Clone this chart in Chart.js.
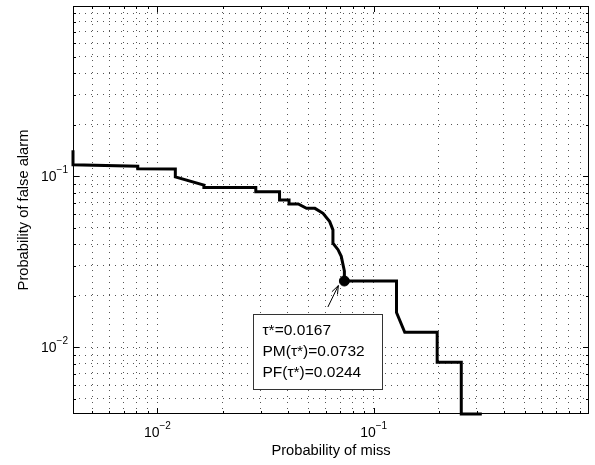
<!DOCTYPE html>
<html>
<head>
<meta charset="utf-8">
<script src="https://cdn.jsdelivr.net/npm/chart.js@4.4.1/dist/chart.umd.min.js"></script>
<style>
  html, body { margin: 0; padding: 0; background: #fff; }
</style>
</head>
<body>
<canvas id="grafico-roc" width="595" height="465"></canvas>
<script>
// curva: probabilidade de perda (x) vs probabilidade de falso alarme (y)
const probMiss = [0.00407, 0.00407, 0.00811, 0.00811, 0.0121, 0.0121, 0.0164, 0.0164, 0.0285, 0.0285,
  0.0367, 0.0367, 0.0406, 0.0406, 0.0448, 0.0489, 0.0535, 0.0583, 0.0626, 0.0648,
  0.0648, 0.0684, 0.0708, 0.0732, 0.0732, 0.1275, 0.1275, 0.1392, 0.1966, 0.1966,
  0.2541, 0.2541, 0.3162];
const probFalseAlarm = [0.142, 0.1168, 0.1143, 0.1107, 0.1102, 0.0991, 0.0887, 0.0859, 0.0859, 0.0811,
  0.0811, 0.0726, 0.0726, 0.0688, 0.0688, 0.0649, 0.0649, 0.0607, 0.0543, 0.0486,
  0.0406, 0.0372, 0.0340, 0.0279, 0.0244, 0.0244, 0.01596, 0.01222, 0.01222, 0.00818,
  0.00818, 0.00407, 0.00407];

// ponto de operacao escolhido
const tauOtimo = 0.0167;
const pmOtimo = 0.0732;
const pfOtimo = 0.0244;

const eixoMin = 0.00407;
const eixoMax = 0.99;
const ticksMaiores = [0.01, 0.1];
const expoentesMaiores = ['\u22122', '\u22121'];
const ticksMenores = [0.005, 0.006, 0.007, 0.008, 0.009,
  0.02, 0.03, 0.04, 0.05, 0.06, 0.07, 0.08, 0.09,
  0.2, 0.3, 0.4, 0.5, 0.6, 0.7, 0.8, 0.9];

const tituloX = 'Probability of miss';
const tituloY = 'Probability of false alarm';
const linhasCaixa = ['\u03c4*=' + tauOtimo, 'PM(\u03c4*)=' + pmOtimo, 'PF(\u03c4*)=' + pfOtimo];

const FONTE = '"Liberation Sans", Arial, Helvetica, sans-serif';

function potenciaDez(ctx, exp, x, y, alinhamento) {
  ctx.font = '14px ' + FONTE;
  const wBase = ctx.measureText('10').width;
  ctx.font = '10px ' + FONTE;
  const wExp = ctx.measureText(exp).width;
  const total = wBase + wExp;
  let x0 = alinhamento === 'center' ? x - total / 2 : x - total;
  ctx.textAlign = 'left';
  ctx.textBaseline = 'middle';
  ctx.font = '14px ' + FONTE;
  ctx.fillText('10', x0, y);
  ctx.font = '10px ' + FONTE;
  ctx.fillText(exp, x0 + wBase, y - 7);
}

const decoracoes = {
  id: 'decoracoes',
  afterDraw(chart) {
    const { ctx, chartArea: a, scales: { x, y } } = chart;
    ctx.save();
    ctx.fillStyle = '#000';
    ctx.strokeStyle = '#000';

    // moldura
    ctx.lineWidth = 1;
    ctx.strokeRect(a.left + 0.5, a.top + 0.5, a.right - a.left - 1, a.bottom - a.top - 1);

    // marcas internas nos quatro lados
    const marcas = ticksMenores.map(v => [v, 3]).concat(ticksMaiores.map(v => [v, 6]));
    ctx.beginPath();
    marcas.forEach(([v, len]) => {
      const px = Math.round(x.getPixelForValue(v)) + 0.5;
      ctx.moveTo(px, a.bottom); ctx.lineTo(px, a.bottom - len);
      ctx.moveTo(px, a.top); ctx.lineTo(px, a.top + len);
      const py = Math.round(y.getPixelForValue(v)) + 0.5;
      ctx.moveTo(a.left, py); ctx.lineTo(a.left + len, py);
      ctx.moveTo(a.right, py); ctx.lineTo(a.right - len, py);
    });
    ctx.stroke();

    // rotulos 10^k
    ticksMaiores.forEach((v, i) => {
      potenciaDez(ctx, expoentesMaiores[i], x.getPixelForValue(v), a.bottom + 19, 'center');
      potenciaDez(ctx, expoentesMaiores[i], a.left - 5, y.getPixelForValue(v) + 1, 'right');
    });

    // titulos dos eixos
    ctx.font = '14.7px ' + FONTE;
    ctx.textAlign = 'center';
    ctx.textBaseline = 'middle';
    ctx.fillText(tituloX, (a.left + a.right) / 2, a.bottom + 37);
    ctx.save();
    ctx.translate(24, (a.top + a.bottom) / 2);
    ctx.rotate(-Math.PI / 2);
    ctx.fillText(tituloY, 0, 0);
    ctx.restore();

    // caixa de anotacao + seta
    const mx = x.getPixelForValue(pmOtimo);
    const my = y.getPixelForValue(pfOtimo);
    const bx = Math.round(mx - 91) + 0.5, by = Math.round(my + 33) + 0.5;
    ctx.fillStyle = '#fff';
    ctx.fillRect(bx, by, 129, 75);
    ctx.strokeStyle = '#333';
    ctx.strokeRect(bx, by, 129, 75);
    ctx.fillStyle = '#000';
    ctx.font = '15.5px ' + FONTE;
    ctx.textAlign = 'left';
    linhasCaixa.forEach((t, i) => ctx.fillText(t, bx + 9, my + 49.5 + i * 21));

    const x1 = mx - 16.5, y1 = my + 26, x2 = mx - 6, y2 = my + 4.5;
    const ang = Math.atan2(y2 - y1, x2 - x1);
    ctx.strokeStyle = '#000';
    ctx.lineWidth = 1;
    ctx.beginPath();
    ctx.moveTo(x1, y1); ctx.lineTo(x2, y2);
    ctx.moveTo(x2, y2); ctx.lineTo(x2 - 9 * Math.cos(ang - 0.35), y2 - 9 * Math.sin(ang - 0.35));
    ctx.moveTo(x2, y2); ctx.lineTo(x2 - 9 * Math.cos(ang + 0.35), y2 - 9 * Math.sin(ang + 0.35));
    ctx.stroke();
    ctx.restore();
  }
};

const eixoLog = {
  type: 'logarithmic',
  min: eixoMin,
  max: eixoMax,
  afterBuildTicks: (scale) => {
    scale.ticks = ticksMenores.concat(ticksMaiores).sort((p, q) => p - q).map(v => ({ value: v }));
  },
  ticks: { display: false },
  grid: { color: '#555', lineWidth: 1, drawTicks: false },
  border: { display: false, dash: [1, 5] }
};

new Chart(document.getElementById('grafico-roc'), {
  type: 'line',
  data: {
    datasets: [{
      data: probMiss.map((v, i) => ({ x: v, y: probFalseAlarm[i] })),
      borderColor: '#000',
      borderWidth: 3,
      pointRadius: 0,
      tension: 0,
      clip: false
    }, {
      data: [{ x: pmOtimo, y: pfOtimo }],
      showLine: false,
      pointRadius: 5,
      pointBackgroundColor: '#000',
      pointBorderColor: '#000'
    }]
  },
  options: {
    responsive: false,
    animation: false,
    devicePixelRatio: 1,
    layout: { padding: { left: 73, right: 1, top: 3, bottom: 51 } },
    plugins: { legend: { display: false }, tooltip: { enabled: false } },
    scales: { x: eixoLog, y: { ...eixoLog } }
  },
  plugins: [decoracoes]
});
</script>
</body>
</html>
